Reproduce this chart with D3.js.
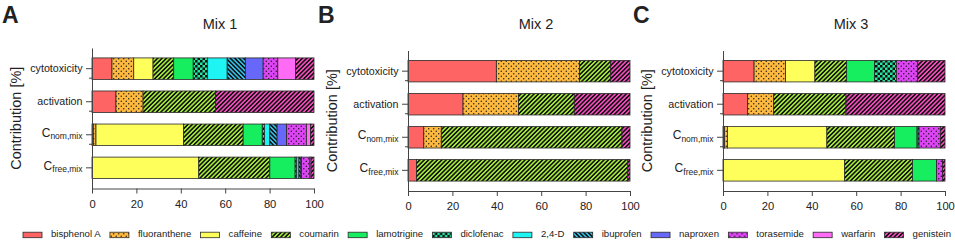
<!DOCTYPE html>
<html lang="en">
<head>
<meta charset="UTF-8">
<title>Mixture contributions</title>
<script src="https://cdn.jsdelivr.net/npm/d3@7"></script>
<style>
  body { margin: 0; background: #fff; }
  text { font-family: Arial, "Liberation Sans", sans-serif; fill: #222; }
  .axis path, .axis line { stroke: #444; stroke-width: 1; }
  .axis text { font-size: 11.2px; fill: #222; font-family: Arial, "Liberation Sans", sans-serif; }
  rect.seg { stroke: #2a2a2a; stroke-width: 0.8; }
</style>
</head>
<body>
<svg id="chart" width="955" height="242"></svg>
<script>
// data
const compounds = ["bisphenol A", "fluoranthene", "caffeine", "coumarin", "lamotrigine", "diclofenac",
  "2,4-D", "ibuprofen", "naproxen", "torasemide", "warfarin", "genistein"]
const rows = ["cytotoxicity", "activation", "nom", "free"]
const xTicks = [0, 20, 40, 60, 80, 100]

// contribution [%], same order as compounds
const mix1Cytotoxicity = [9.0, 9.8, 8.7, 9.3, 8.8, 6.5, 8.8, 8.2, 8.0, 6.6, 8.0, 8.3]
const mix1Activation   = [10.8, 12.2, 0, 32.6, 0, 0, 0, 0, 0, 0, 0, 44.4]
const mix1Nom          = [0.6, 1.2, 39.4, 26.9, 8.6, 1.0, 2.4, 3.3, 4.2, 9.0, 1.8, 1.6]
const mix1Free         = [0, 0, 48.1, 32.0, 11.4, 0.7, 1.0, 0.9, 0.3, 3.8, 0.5, 1.3]

const mix2Cytotoxicity = [39.8, 37.5, 0, 14.0, 0, 0, 0, 0, 0, 0, 0, 8.7]
const mix2Activation   = [24.8, 25.0, 0, 25.1, 0, 0, 0, 0, 0, 0, 0, 25.1]
const mix2Nom          = [7.1, 7.9, 0, 81.4, 0, 0, 0, 0, 0, 0, 0, 3.6]
const mix2Free         = [3.8, 0, 0, 95.2, 0, 0, 0, 0, 0, 0, 0, 1.0]

const mix3Cytotoxicity = [14.0, 14.2, 13.2, 14.3, 12.6, 9.8, 0, 0, 0, 9.6, 0, 12.3]
const mix3Activation   = [11.1, 11.7, 0, 32.6, 0, 0, 0, 0, 0, 0, 0, 44.6]
const mix3Nom          = [0.7, 1.3, 44.8, 30.5, 10.1, 0.9, 0, 0, 0, 9.6, 0, 2.1]
const mix3Free         = [0, 0, 54.8, 30.6, 10.8, 0, 0, 0, 0, 2.7, 0, 1.1]

// styles
const colors = ["#ff6464", "#ffb93f", "#ffff5c", "#a9f23a", "#17ee5f", "#22e6a2",
  "#1ef4f4", "#33c6f0", "#6767fa", "#dd44f4", "#ff6bf5", "#ff4dc4"]
const fills = ["none", "dots", "none", "slash", "none", "checks",
  "none", "backslash", "none", "dots", "none", "slash"]

const panels = [
  { letter: "A", title: "Mix 1", left: 92, top: 48, values: [mix1Cytotoxicity, mix1Activation, mix1Nom, mix1Free] },
  { letter: "B", title: "Mix 2", left: 408, top: 50.5, values: [mix2Cytotoxicity, mix2Activation, mix2Nom, mix2Free] },
  { letter: "C", title: "Mix 3", left: 723, top: 50.5, values: [mix3Cytotoxicity, mix3Activation, mix3Nom, mix3Free] }
]
const WIDTH = 222
const HEIGHT = 140.5

const svg = d3.select('#chart')
svg.append('rect').attr('width', 955).attr('height', 242).attr('fill', '#fff')

// patterns
const defs = svg.append('defs')
compounds.forEach((c, i) => {
  const kind = fills[i]
  if (kind === 'none') return
  const p = defs.append('pattern')
    .attr('id', `fill-${i}`)
    .attr('patternUnits', 'userSpaceOnUse')
  if (kind === 'dots') {
    p.attr('width', 5).attr('height', 5)
    p.append('rect').attr('width', 5).attr('height', 5).attr('fill', colors[i])
    p.append('circle').attr('cx', 1.25).attr('cy', 1.25).attr('r', 0.7).attr('fill', '#111')
    p.append('circle').attr('cx', 3.75).attr('cy', 3.75).attr('r', 0.7).attr('fill', '#111')
  } else if (kind === 'checks') {
    p.attr('width', 5).attr('height', 5)
    p.append('rect').attr('width', 5).attr('height', 5).attr('fill', colors[i])
    p.append('rect').attr('width', 2.5).attr('height', 2.5).attr('fill', '#111')
    p.append('rect').attr('x', 2.5).attr('y', 2.5).attr('width', 2.5).attr('height', 2.5).attr('fill', '#111')
  } else {
    p.attr('width', 3.1).attr('height', 3.1)
      .attr('patternTransform', kind === 'slash' ? 'rotate(45)' : 'rotate(-45)')
    p.append('rect').attr('width', 3.1).attr('height', 3.1).attr('fill', colors[i])
    p.append('line').attr('x1', 0.8).attr('x2', 0.8).attr('y1', 0).attr('y2', 3.1)
      .attr('stroke', '#111').attr('stroke-width', 1.6)
  }
})
const fillOf = i => fills[i] === 'none' ? colors[i] : `url(#fill-${i})`

const stack = d3.stack().keys(compounds)

panels.forEach(panel => {
  const g = svg.append('g')
  const x = d3.scaleLinear().domain([0, 100]).range([panel.left, panel.left + WIDTH])
  const y = d3.scaleBand().domain(rows)
    .range([panel.top, panel.top + HEIGHT])
    .paddingInner(0.35)
    .paddingOuter(0.3)

  const table = rows.map((r, ri) => {
    const o = { row: r }
    compounds.forEach((c, ci) => o[c] = panel.values[ri][ci])
    return o
  })
  const series = stack(table)

  series.forEach((layer, li) => {
    g.selectAll(null)
      .data(layer.filter(d => d[1] - d[0] > 0))
      .enter()
      .append('rect')
        .attr('class', 'seg')
        .attr('x', d => x(d[0]))
        .attr('width', d => x(d[1]) - x(d[0]))
        .attr('y', d => y(d.data.row))
        .attr('height', y.bandwidth())
        .attr('fill', fillOf(li))
  })

  // axes
  g.append('g')
    .attr('class', 'axis')
    .attr('transform', `translate(0, ${panel.top + HEIGHT})`)
    .call(d3.axisBottom(x).tickValues(xTicks).tickSize(5).tickPadding(6.5).tickSizeOuter(0))

  g.append('g')
    .attr('class', 'axis')
    .attr('transform', `translate(${panel.left}, 0)`)
    .call(d3.axisLeft(y).tickSize(6).tickSizeOuter(0).tickFormat(() => ''))

  // small ticks under the first bars
  g.selectAll('line.minor')
    .data(rows.slice(0, 3))
    .enter()
    .append('line')
      .attr('x1', panel.left - 3)
      .attr('x2', panel.left)
      .attr('y1', d => y(d) + y.bandwidth() / 2 + 9.5)
      .attr('y2', d => y(d) + y.bandwidth() / 2 + 9.5)
      .attr('stroke', '#444')

  // category labels
  rows.forEach(r => {
    const cy = y(r) + y.bandwidth() / 2
    const t = g.append('text')
      .attr('x', panel.left - 9.5)
      .attr('text-anchor', 'end')
    if (r === 'cytotoxicity' || r === 'activation') {
      t.attr('y', cy).attr('dy', '0.35em').attr('font-size', 10.7).text(r)
    } else {
      t.attr('y', cy + 1.8)
      t.append('tspan').attr('font-size', 12).text('C')
      t.append('tspan').attr('font-size', 8.5).attr('dy', 2.6).text(`${r},mix`)
    }
  })

  // axis title
  g.append('text')
    .attr('transform', `translate(${panel.left - 76}, ${panel.top + HEIGHT / 2}) rotate(-90)`)
    .attr('text-anchor', 'middle')
    .attr('dy', '0.35em')
    .attr('font-size', 14.5)
    .text('Contribution [%]')

  g.append('text')
    .attr('x', panel.left + WIDTH / 2 + 17)
    .attr('y', 29.3)
    .attr('text-anchor', 'middle')
    .attr('font-size', 14.5)
    .text(panel.title)

  g.append('text')
    .attr('x', panel.left - 90)
    .attr('y', 23)
    .attr('font-size', 23)
    .attr('font-weight', 'bold')
    .attr('fill', '#111')
    .text(panel.letter)
})

// legend
const legend = svg.append('g')
const items = compounds.map((c, i) => {
  const item = legend.append('g')
  item.append('rect')
    .attr('width', 19).attr('height', 5.5)
    .attr('y', 232.2)
    .attr('fill', fillOf(i))
    .attr('stroke', '#2a2a2a').attr('stroke-width', 0.8)
  const t = item.append('text')
    .attr('x', 28)
    .attr('y', 237)
    .attr('font-size', 9.6)
    .text(c)
  return { item, w: 28 + t.node().getComputedTextLength() }
})
const legendStart = 23, legendEnd = 951
const gap = (legendEnd - legendStart - d3.sum(items, d => d.w)) / (items.length - 1)
let lx = legendStart
items.forEach(d => {
  d.item.attr('transform', `translate(${lx}, 0)`)
  lx += d.w + gap
})
</script>
</body>
</html>
